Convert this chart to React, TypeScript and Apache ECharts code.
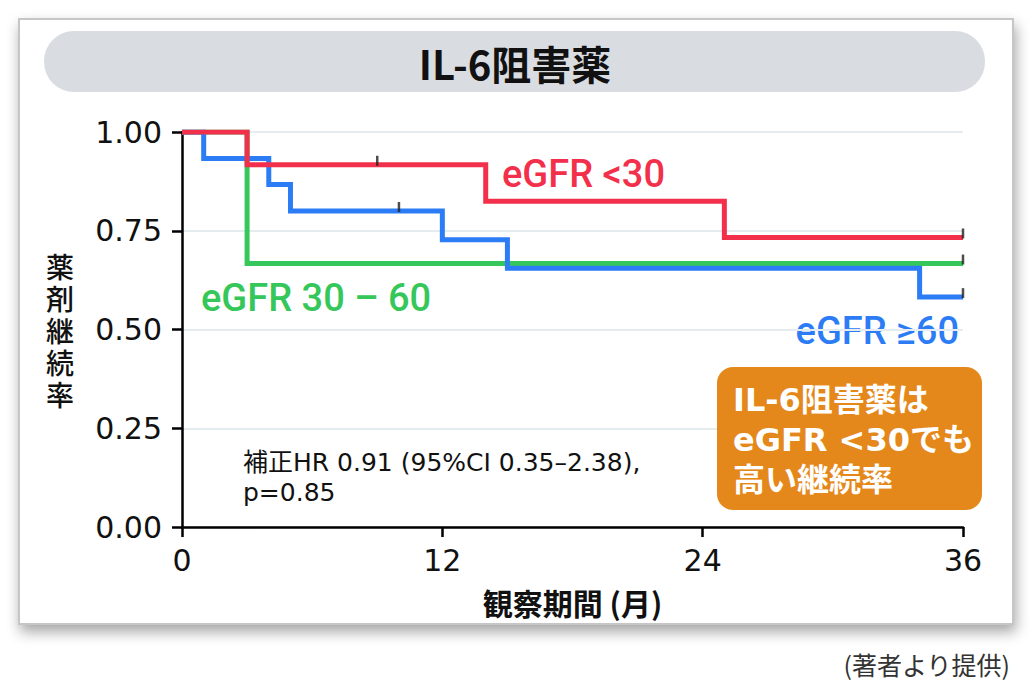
import React, { useEffect, useRef } from "react";
import * as echarts from "echarts";

// ---- Data ----
const xTicks = [0, 12, 24, 36];
const yTicks = [0, 0.25, 0.5, 0.75, 1.0];

// eGFR <30 (red)
const redMonths = [0, 3, 14, 25, 36];
const redSurv = [1.0, 0.917, 0.825, 0.733, 0.733];
const redCensor = [9, 36];

// eGFR 30–60 (green)
const greenMonths = [0, 3, 36];
const greenSurv = [1.0, 0.667, 0.667];
const greenCensor = [36];

// eGFR ≥60 (blue)
const blueMonths = [0, 1, 4, 5, 12, 15, 34, 36];
const blueSurv = [1.0, 0.933, 0.867, 0.8, 0.727, 0.655, 0.582, 0.582];
const blueCensor = [10, 36];

const seriesNames = ["eGFR <30", "eGFR 30 – 60", "eGFR ≥60"];
const titleText = "IL-6阻害薬";
const yName = "薬剤継続率";
const xName = "観察期間 (月)";
const statLines = ["補正HR 0.91 (95%CI 0.35–2.38),", "p=0.85"];
const boxLines = ["IL-6阻害薬は", "eGFR <30でも", "高い継続率"];
const footer = "(著者より提供)";

const RED = "#f3304b";
const GREEN = "#36c75a";
const BLUE = "#2c7cf5";
const ORANGE = "#e5881c";

const LATIN = "'DejaVu Sans', 'Noto Sans CJK JP', sans-serif";
const LABEL = "Roboto, 'Liberation Sans', Arial, sans-serif";
const CJK = "'Noto Sans CJK JP', 'DejaVu Sans', sans-serif";

function pairs(xs: number[], ys: number[]) {
  return xs.map((x, i) => [x, ys[i]]);
}
function survAt(xs: number[], ys: number[], t: number) {
  let v = ys[0];
  for (let i = 0; i < xs.length; i++) if (xs[i] <= t) v = ys[i];
  return v;
}
function censorPts(xs: number[], ys: number[], cs: number[]) {
  return cs.map((c) => [c, survAt(xs, ys, c)]);
}

export default function App() {
  const ref = useRef<HTMLDivElement>(null);
  useEffect(() => {
    if (!ref.current) return;
    const chart = echarts.init(ref.current, undefined, { renderer: "svg" });
    const lineSeries = (name: string, data: number[][], color: string, z: number) => ({
      type: "line",
      name,
      data,
      step: "end",
      symbol: "none",
      z,
      lineStyle: { color, width: 5, cap: "butt", join: "miter" },
    });
    const censorSeries = (data: number[][], z: number) => ({
      type: "scatter",
      data,
      symbol: "rect",
      symbolSize: [2.5, 10],
      symbolOffset: [0, -4],
      itemStyle: { color: "#222" },
      z,
    });
    chart.setOption({
      animation: false,
      backgroundColor: "#ffffff",
      grid: { left: 182, right: 66, top: 132, bottom: 163, containLabel: false },
      xAxis: {
        type: "value",
        min: 0,
        max: 36,
        interval: 12,
        name: xName,
        nameLocation: "middle",
        nameGap: 60,
        nameTextStyle: { fontFamily: CJK, fontSize: 30, fontWeight: "bold", color: "#111" },
        axisLine: { onZero: false, lineStyle: { color: "#000", width: 2.5 } },
        axisTick: { show: true, length: 10, lineStyle: { color: "#000", width: 2.5 } },
        axisLabel: {
          margin: 18,
          fontFamily: LATIN,
          fontSize: 30,
          color: "#111",
          customValues: xTicks,
        },
        splitLine: { show: false },
      },
      yAxis: {
        type: "value",
        min: 0,
        max: 1,
        interval: 0.25,
        axisLine: { show: true, lineStyle: { color: "#000", width: 2.5 } },
        axisTick: { show: true, length: 10, lineStyle: { color: "#000", width: 2.5 } },
        axisLabel: {
          margin: 20,
          fontFamily: LATIN,
          fontSize: 30,
          color: "#111",
          formatter: (v: number) => (yTicks.includes(v) ? v.toFixed(2) : ""),
        },
        splitLine: { show: true, lineStyle: { color: "#e5ecef", width: 2 } },
      },
      series: [
        lineSeries(seriesNames[1], pairs(greenMonths, greenSurv), GREEN, 3),
        lineSeries(seriesNames[2], pairs(blueMonths, blueSurv), BLUE, 4),
        lineSeries(seriesNames[0], pairs(redMonths, redSurv), RED, 5),
        censorSeries(censorPts(greenMonths, greenSurv, greenCensor), 6),
        censorSeries(censorPts(blueMonths, blueSurv, blueCensor), 6),
        censorSeries(censorPts(redMonths, redSurv, redCensor), 6),
      ],
      graphic: [
        {
          type: "rect",
          z: -10,
          silent: true,
          shape: { x: 19, y: 19, width: 994, height: 605 },
          style: {
            fill: "#ffffff",
            stroke: "#c6c6c6",
            lineWidth: 2,
            shadowBlur: 14,
            shadowColor: "rgba(0,0,0,0.35)",
            shadowOffsetX: 2,
            shadowOffsetY: 7,
          },
        },
        {
          type: "rect",
          z: -9,
          silent: true,
          shape: { x: 44, y: 31, width: 941, height: 61, r: 30 },
          style: { fill: "#d9dce1" },
        },
        {
          type: "text",
          x: 515,
          y: 63,
          style: {
            text: titleText,
            fill: "#111",
            font: `bold 40px ${CJK}`,
            align: "center",
            verticalAlign: "middle",
          },
        },
        ...yName.split("").map((ch, i) => ({
          type: "text",
          x: 60,
          y: 266 + i * 32,
          style: {
            text: ch,
            fill: "#111",
            font: `500 28px ${CJK}`,
            lineHeight: 30,
            align: "center",
            verticalAlign: "middle",
          },
        })),
        {
          type: "text",
          x: 502,
          y: 174,
          style: { text: seriesNames[0], fill: RED, font: `500 38px ${LABEL}`, align: "left", verticalAlign: "middle" },
        },
        {
          type: "text",
          x: 201,
          y: 298,
          style: { text: seriesNames[1], fill: GREEN, font: `500 38px ${LABEL}`, align: "left", verticalAlign: "middle" },
        },
        {
          type: "text",
          x: 959,
          y: 331,
          style: { text: seriesNames[2], fill: BLUE, font: `500 38px ${LABEL}`, align: "right", verticalAlign: "middle" },
        },
        {
          type: "text",
          x: 243,
          y: 462,
          style: { text: statLines[0], fill: "#111", font: `25px ${LATIN}`, align: "left", verticalAlign: "middle" },
        },
        {
          type: "text",
          x: 243,
          y: 492,
          style: { text: statLines[1], fill: "#111", font: `25px ${LATIN}`, align: "left", verticalAlign: "middle" },
        },
        {
          type: "rect",
          z: 10,
          shape: { x: 717, y: 367, width: 265, height: 143, r: 16 },
          style: { fill: ORANGE },
        },
        ...boxLines.map((t, i) => ({
          type: "text",
          z: 11,
          x: 733,
          y: 400 + i * 40,
          style: {
            text: t,
            fill: "#ffffff",
            font: `bold 32px ${LATIN}`,
            align: "left",
            verticalAlign: "middle",
          },
        })),
        {
          type: "text",
          x: 1010,
          y: 664,
          style: { text: footer, fill: "#333", font: `25px ${CJK}`, align: "right", verticalAlign: "middle" },
        },
      ],
    });
    return () => chart.dispose();
  }, []);
  return (
    <div
      ref={ref}
      style={{ position: "fixed", left: 0, top: 0, width: 1029, height: 690, background: "#fff" }}
    />
  );
}
